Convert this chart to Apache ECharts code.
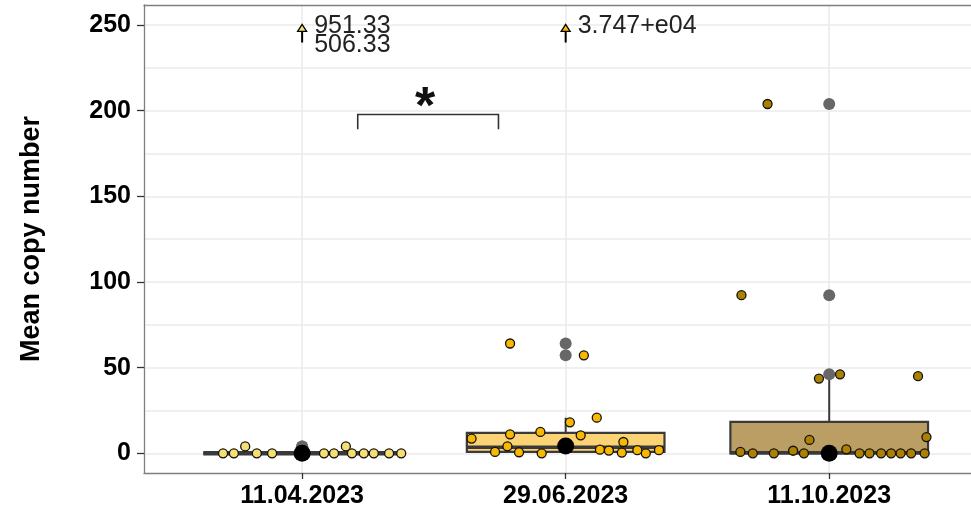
<!DOCTYPE html>
<html><head><meta charset="utf-8">
<script src="https://cdn.jsdelivr.net/npm/echarts@6/dist/echarts.min.js"></script>
<style>html,body{margin:0;padding:0;background:#fff}#c{width:971px;height:514px}</style>
</head><body><div id="c"></div>
<script>
// ---------- data ----------
const categories = ['11.04.2023', '29.06.2023', '11.10.2023'];
const yTicks = [0, 50, 100, 150, 200, 250];
const yGrid = [0, 25, 50, 75, 100, 125, 150, 175, 200, 225, 250];

// boxplot stats: [lower whisker, Q1, median, Q3, upper whisker]
const boxStats = [
  [0, 0, 0, 0, 0],
  [0, 0.8, 3.5, 11.9, 20.8],
  [0, 0, 0.3, 18.3, 45]
];
// outliers drawn by the boxplot (grey)
const outliers1 = [4, 4];
const outliers2 = [57.2, 64.1];
const outliers3 = [46.1, 92.3, 203.9];
// big black summary dot
const centerDots = [0, 4.3, 0];

// jittered observations (value, horizontal jitter in category units)
const g1Values = [0, 0, 4, 0, 0, 0, 0, 4, 0, 0, 0, 0, 0];
const g1Jitter = [-0.300, -0.259, -0.216, -0.172, -0.114, 0.083, 0.121, 0.166, 0.189, 0.234, 0.272, 0.330, 0.376];
const g2Values = [64.1, 57.2, 18.1, 20.8, 8.6, 11.1, 12.5, 10.5, 4.1, 0.8, 0.6, 0, 6.6, 2.1, 1.6, 0.4, 1.8, 0, 1.8];
const g2Jitter = [-0.211, 0.069, 0.016, 0.118, -0.357, -0.211, -0.096, 0.057, -0.221, -0.268, -0.177, -0.091, 0.219, 0.130, 0.164, 0.213, 0.272, 0.304, 0.354];
const g3Values = [203.9, 92.3, 43.6, 46.1, 45, 0.8, 0, 0, 1.5, 0, 7.8, 2.3, 0, 0, 0, 0, 0, 0, 0, 9.5];
const g3Jitter = [-0.234, -0.333, -0.039, 0.041, 0.337, -0.337, -0.290, -0.210, -0.137, -0.096, -0.075, 0.065, 0.115, 0.153, 0.197, 0.235, 0.271, 0.311, 0.362, 0.369];

// values above the plotted range
const offScaleGroups = [0, 1];
const offScaleLabels = ['951.33\n506.33', '3.747+e04'];
const ARROW_BASE = 239.8, ARROW_TIP = 250.4;

// significance bracket
const sigFrom = 0.211, sigTo = 0.745, sigLow = 189.1, sigHigh = 197.8;
const sigLabel = '*';

// ---------- styles ----------
const FONT = "'Liberation Sans', Arial, sans-serif";
const pointFills = ['#F5DF70', '#F9B800', '#AE8000'];
const boxFills = ['rgba(246,226,124,0.85)', 'rgba(252,203,92,0.85)', 'rgba(178,148,82,0.9)'];
const medianWidths = [4.6, 3.6, 3.6];
const BOX_WIDTH = 0.75;
const STROKE = '#3a3a3a';
const BORDER = '#7f7f7f';

function jitterData(vals, jit, g) { return vals.map((v, k) => [g + jit[k], v]); }

const chart = echarts.init(document.getElementById('c'), null, {renderer: 'canvas'});

const gridMarks = [];
yGrid.forEach(v => gridMarks.push({yAxis: v}));
categories.forEach((c, i) => gridMarks.push({xAxis: i}));

const option = {
  animation: false,
  backgroundColor: '#fff',
  grid: {left: 144, top: 5, right: 0, height: 468, show: false},
  xAxis: [{
    type: 'value', min: -0.6, max: 2.538, z: 10,
    axisLine: {show: true, onZero: false, lineStyle: {color: BORDER, width: 1.3}},
    axisTick: {show: true, customValues: [0, 1, 2], length: 6, lineStyle: {color: '#333', width: 1.3}},
    axisLabel: {customValues: [0, 1, 2], formatter: v => categories[Math.round(v)], fontSize: 25, fontWeight: 'bold', color: '#000', fontFamily: FONT, margin: 11},
    splitLine: {show: false}
  }, {
    type: 'value', position: 'top', min: -0.6, max: 2.538, z: 10,
    axisLine: {show: true, onZero: false, lineStyle: {color: BORDER, width: 1.3}},
    axisTick: {show: false}, axisLabel: {show: false}, splitLine: {show: false}
  }],
  yAxis: {
    type: 'value', min: -11.5, max: 261.7, z: 10,
    name: 'Mean copy number', nameLocation: 'middle', nameGap: 99, nameRotate: 90,
    nameTextStyle: {fontSize: 27, fontWeight: 'bold', color: '#000', fontFamily: FONT},
    axisLine: {show: true, onZero: false, lineStyle: {color: BORDER, width: 1.3}},
    axisTick: {show: true, customValues: yTicks, length: 7, lineStyle: {color: '#333', width: 1.3}},
    axisLabel: {customValues: yTicks, fontSize: 25, fontWeight: 'bold', color: '#000', fontFamily: FONT, margin: 13},
    splitLine: {show: false}
  },
  series: [
    {
      type: 'scatter', z: 1, silent: true, data: [], symbolSize: 0,
      markLine: {silent: true, z: 1, symbol: 'none', label: {show: false},
        lineStyle: {color: '#ebebeb', width: 1.6, type: 'solid'}, data: gridMarks}
    },
    {
      type: 'custom', z: 2, silent: true,
      data: boxStats.map((s, i) => [i].concat(s)),
      renderItem: function (params, api) {
        const i = api.value(0);
        const lo = api.coord([i, api.value(1)]);
        const q1 = api.coord([i, api.value(2)]);
        const md = api.coord([i, api.value(3)]);
        const q3 = api.coord([i, api.value(4)]);
        const hi = api.coord([i, api.value(5)]);
        const half = api.size([BOX_WIDTH, 0])[0] / 2;
        const cx = q1[0];
        return {type: 'group', children: [
          {type: 'line', shape: {x1: cx, y1: q3[1], x2: cx, y2: hi[1]}, style: {stroke: STROKE, lineWidth: 2}},
          {type: 'line', shape: {x1: cx, y1: q1[1], x2: cx, y2: lo[1]}, style: {stroke: STROKE, lineWidth: 2}},
          {type: 'rect', shape: {x: cx - half, y: q3[1], width: 2 * half, height: q1[1] - q3[1]}, style: {fill: boxFills[i], stroke: STROKE, lineWidth: 2.2}},
          {type: 'line', shape: {x1: cx - half, y1: md[1], x2: cx + half, y2: md[1]}, style: {stroke: STROKE, lineWidth: medianWidths[i]}}
        ]};
      }
    },
    {
      type: 'scatter', z: 3, silent: true, symbolSize: 12,
      itemStyle: {color: '#676767', opacity: 1},
      data: [].concat(outliers1.map(v => [0, v]), outliers2.map(v => [1, v]), outliers3.map(v => [2, v]))
    },
    {type: 'scatter', z: 4, silent: true, symbolSize: 9, itemStyle: {color: pointFills[0], borderColor: '#111', borderWidth: 1.3, opacity: 1}, data: jitterData(g1Values, g1Jitter, 0)},
    {type: 'scatter', z: 4, silent: true, symbolSize: 9, itemStyle: {color: pointFills[1], borderColor: '#111', borderWidth: 1.3, opacity: 1}, data: jitterData(g2Values, g2Jitter, 1)},
    {type: 'scatter', z: 4, silent: true, symbolSize: 9, itemStyle: {color: pointFills[2], borderColor: '#111', borderWidth: 1.3, opacity: 1}, data: jitterData(g3Values, g3Jitter, 2)},
    {type: 'scatter', z: 5, silent: true, symbolSize: 17, itemStyle: {color: '#000', opacity: 1}, data: centerDots.map((v, i) => [i, v])},
    {
      type: 'custom', z: 6, silent: true,
      data: offScaleGroups.map((g, k) => [g, ARROW_TIP, k]),
      renderItem: function (params, api) {
        const g = api.value(0);
        const k = api.value(2);
        const tip = api.coord([g, ARROW_TIP]);
        const base = api.coord([g, ARROW_BASE]);
        const tb = tip[1] + 7;
        return {type: 'group', children: [
          {type: 'line', shape: {x1: tip[0], y1: tb, x2: base[0], y2: base[1]}, style: {stroke: '#000', lineWidth: 2}},
          {type: 'polygon', shape: {points: [[tip[0], tip[1]], [tip[0] - 4.5, tb], [tip[0] + 4.5, tb]]}, style: {fill: pointFills[g], stroke: '#000', lineWidth: 1.3}},
          {type: 'text', x: tip[0] + 12, y: tip[1] - 8, style: {text: offScaleLabels[k], fill: '#222', fontSize: 25, fontFamily: FONT, lineHeight: 19, align: 'left', verticalAlign: 'top'}}
        ]};
      }
    },
    {
      type: 'custom', z: 6, silent: true,
      data: [[sigFrom, sigTo, sigLow, sigHigh]],
      renderItem: function (params, api) {
        const a = api.coord([api.value(0), api.value(2)]);
        const b = api.coord([api.value(0), api.value(3)]);
        const c = api.coord([api.value(1), api.value(3)]);
        const d = api.coord([api.value(1), api.value(2)]);
        return {type: 'group', children: [
          {type: 'polyline', shape: {points: [a, b, c, d]}, style: {stroke: '#333', lineWidth: 1.6, fill: null}},
          {type: 'text', x: (b[0] + c[0]) / 2 - 3, y: b[1] + 20, style: {text: sigLabel, fill: '#111', fontSize: 52, fontWeight: 'bold', fontFamily: FONT, align: 'center', verticalAlign: 'bottom'}}
        ]};
      }
    }
  ]
};
chart.setOption(option);
</script></body></html>
